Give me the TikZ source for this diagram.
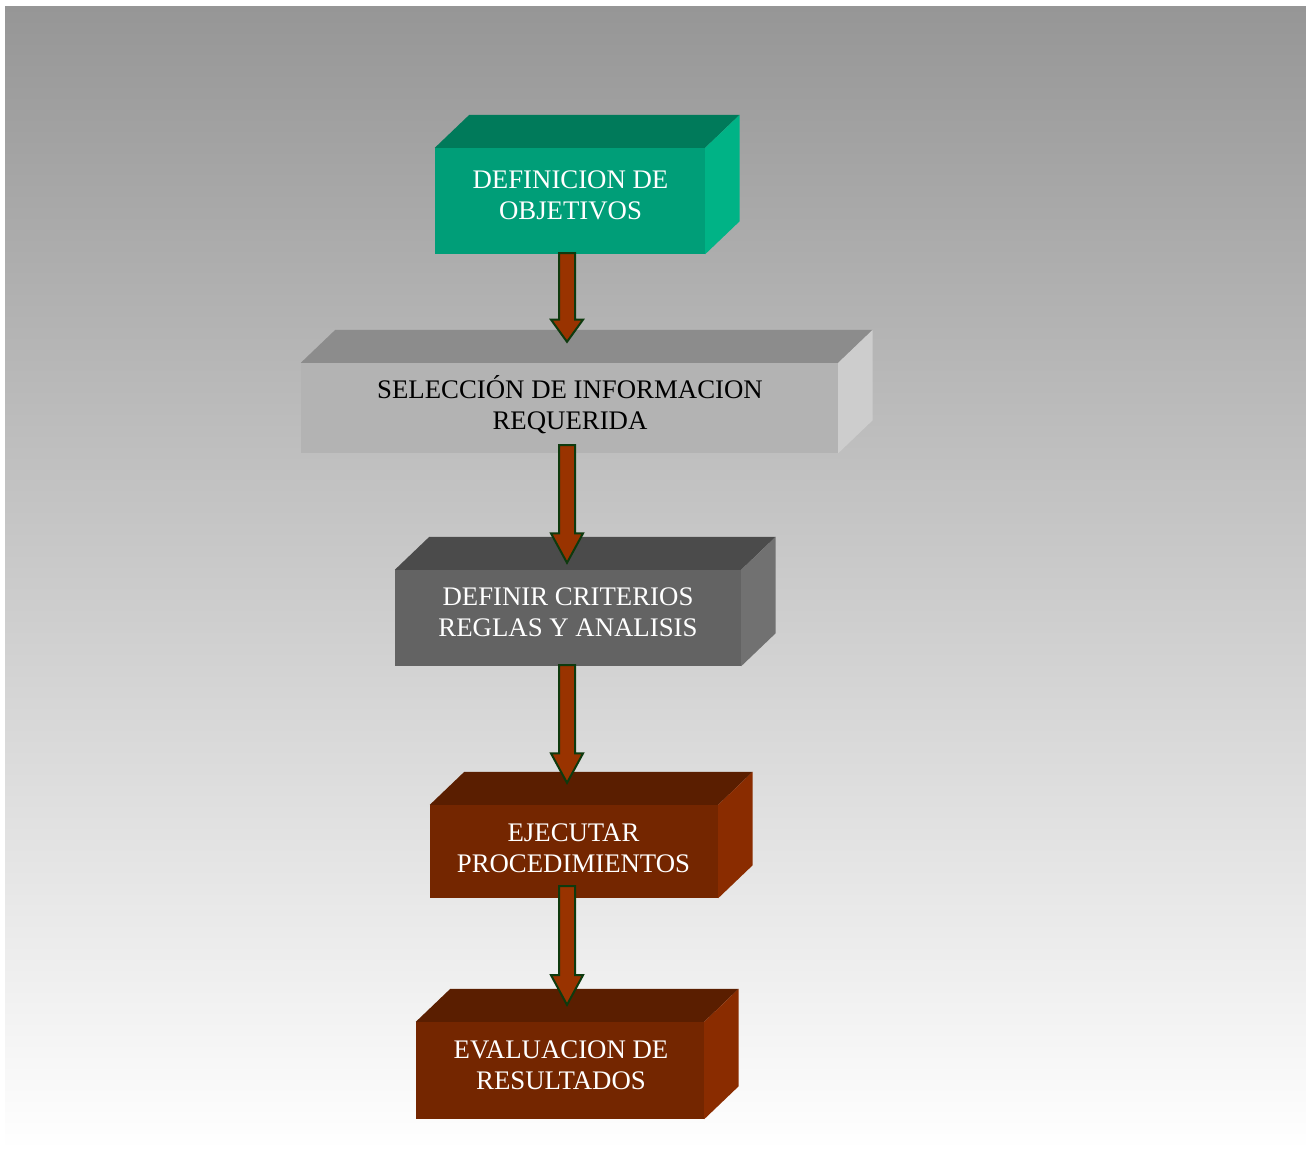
\documentclass[tikz,border=0pt]{standalone}
\usepackage{fontspec}
\setmainfont{Liberation Serif}
\usetikzlibrary{calc}

% face colours of the solid blocks
\definecolor{greentop}{HTML}{007A5A}
\definecolor{greenfront}{HTML}{009E78}
\definecolor{greenside}{HTML}{00B386}
\definecolor{lighttop}{HTML}{8C8C8C}
\definecolor{lightfront}{HTML}{B3B3B3}
\definecolor{lightside}{HTML}{CDCDCD}
\definecolor{darktop}{HTML}{4B4B4B}
\definecolor{darkfront}{HTML}{636363}
\definecolor{darkside}{HTML}{717171}
\definecolor{browntop}{HTML}{5A1E00}
\definecolor{brownfront}{HTML}{742600}
\definecolor{brownside}{HTML}{8A2C00}
% arrows and background
\definecolor{arrowfill}{HTML}{993300}
\definecolor{arrowedge}{HTML}{0E3A0E}
\definecolor{bgtop}{HTML}{969696}

\tikzset{
  frontface/.style={rectangle, draw=none, inner sep=0pt},
  boxtext/.style={inner sep=0pt, align=center,
    font=\fontsize{26.8}{31}\selectfont, text height=48.7pt, text depth=0pt},
  flowarrow/.style={fill=arrowfill, draw=arrowedge, line width=2pt, line join=miter},
}

% #1 name, #2 centre x, #3 centre y, #4 width, #5 height, #6 colour family
\newcommand\solidblock[6]{%
  \node[frontface, fill=#6front, minimum width=#4, minimum height=#5] (#1) at (#2,#3) {};
  \fill[#6top] (#1.north west) -- ++(34.5,-33) -- ($(#1.north east)+(34.5,-33)$)
    -- (#1.north east) -- cycle;
  \fill[#6side] (#1.north east) -- ++(34.5,-33) -- ($(#1.south east)+(34.5,-33)$)
    -- (#1.south east) -- cycle;
}

% block arrow from node #1 to node #2; #3 rise of the tail above #1's bottom,
% #4 gap of the tip above #2's front face
\newcommand\blockarrow[4]{%
  \coordinate (tail) at ($(#1.south -| axis)+(0,-#3)$);
  \coordinate (tip) at ($(#2.north -| axis)+(0,-#4)$);
  \coordinate (head) at ($(tip)!0.25!(tail)$);
  \draw[flowarrow] ($(tail)+(-8,0)$) -- ($(head)+(-8,0)$) -- ($(head)+(-16,0)$)
    -- (tip) -- ($(head)+(16,0)$) -- ($(head)+(8,0)$) -- ($(tail)+(8,0)$) -- cycle;
}

\begin{document}
\begin{tikzpicture}[x=1pt,y=-1pt]
  \useasboundingbox (0,0) rectangle (1306,1152);
  \shade[top color=bgtop, bottom color=white] (5,6) rectangle (1306,1150);

  \coordinate (axis) at (567,0);

  \solidblock{b1}{570}{201}{270}{106}{green}
  \solidblock{b2}{569.5}{408}{537}{90}{light}
  \solidblock{b3}{568}{618}{346}{96}{dark}
  \solidblock{b4}{574}{851.5}{288}{93}{brown}
  \solidblock{b5}{560}{1070.5}{288}{97}{brown}

  \node[boxtext, text=white] (t1) at (570.5,195) {DEFINICION DE\\OBJETIVOS};
  \node[boxtext, text=black] (t2) at (570,405.5) {SELECCIÓN DE INFORMACION\\REQUERIDA};
  \node[boxtext, text=white] (t3) at (568,612.5) {DEFINIR CRITERIOS\\REGLAS Y ANALISIS};
  \node[boxtext, text=white] (t4) at (573.5,848.5) {EJECUTAR\\PROCEDIMIENTOS};
  \node[boxtext, text=white] (t5) at (561,1065.5) {EVALUACION DE\\RESULTADOS};

  \blockarrow{b1}{b2}{1}{21}
  \blockarrow{b2}{b3}{8}{7}
  \blockarrow{b3}{b4}{1}{22}
  \blockarrow{b4}{b5}{12}{17}
\end{tikzpicture}
\end{document}
